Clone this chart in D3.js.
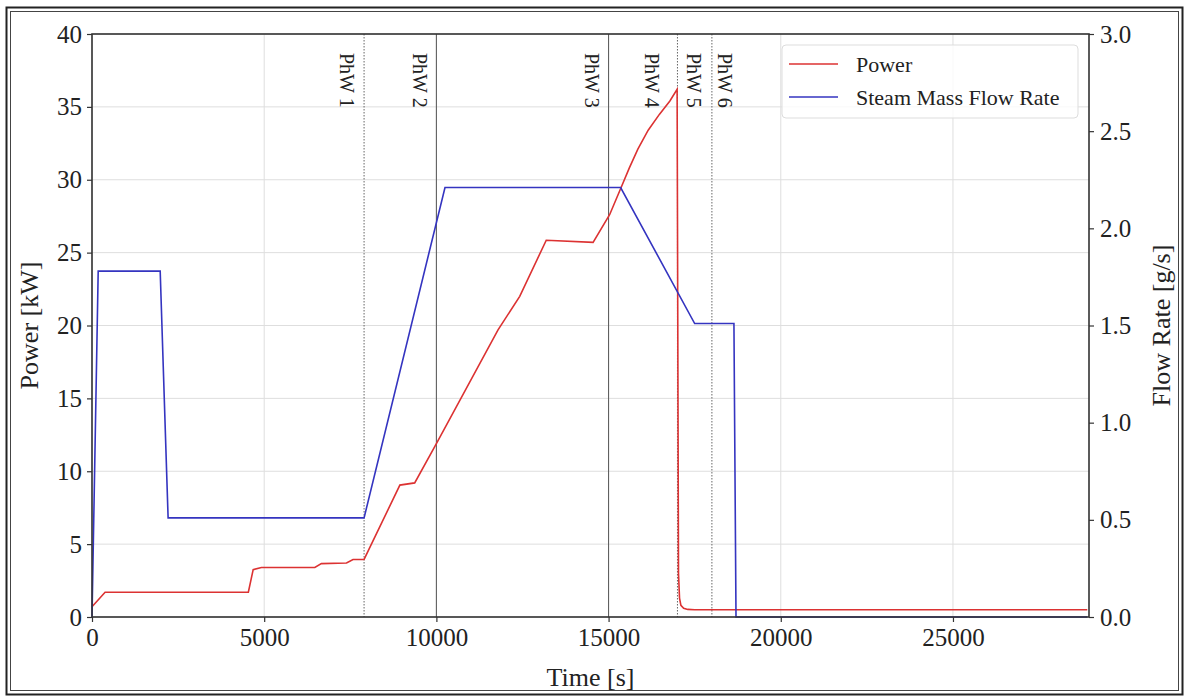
<!DOCTYPE html>
<html>
<head>
<meta charset="utf-8">
<script src="https://cdn.jsdelivr.net/npm/d3@7"></script>
<style>
  body { margin: 0; background: #fff; }
  svg { display: block; }
</style>
</head>
<body>
<div id="g"></div>
<script>
// ---- data ----
var timeTicks  = [0, 5000, 10000, 15000, 20000, 25000];
var powerTicks = [0, 5, 10, 15, 20, 25, 30, 35, 40];
var flowTicks  = [0, 0.5, 1.0, 1.5, 2.0, 2.5, 3.0];

var powerT  = [0, 380, 4540, 4680, 4920, 6470, 6660, 7390, 7580, 7900, 8940, 9370, 10000, 11790, 12420, 13190, 14550, 15030, 15370, 15600, 15850, 16150, 16480, 16780, 16990, 17030, 17060, 17100, 17180, 17300, 17500, 28900];
var powerKW = [0.7, 1.7, 1.7, 3.25, 3.4, 3.4, 3.66, 3.7, 3.95, 3.95, 9.05, 9.2, 11.9, 19.7, 22.0, 25.85, 25.7, 27.6, 29.5, 30.8, 32.1, 33.4, 34.5, 35.4, 36.2, 3.0, 1.3, 0.8, 0.6, 0.52, 0.5, 0.5];

var flowT  = [0, 180, 1980, 2210, 7900, 10250, 15350, 17500, 18640, 18700, 28900];
var flowGS = [0, 1.78, 1.78, 0.51, 0.51, 2.21, 2.21, 1.51, 1.51, 0, 0];

var phaseLineT    = [7900, 10000, 15000, 17000, 18000];
var phaseLineKind = ["dot", "solid", "solid", "dot", "dot"];
var phaseLabels   = ["PhW 1", "PhW 2", "PhW 3", "PhW 4", "PhW 5", "PhW 6"];
var phaseLabelT   = [7400, 9520, 14510, 16250, 17470, 18370];

var seriesNames = ["Power", "Steam Mass Flow Rate"];

// ---- layout ----
var WIDTH = 1186, HEIGHT = 699;
var M = {left: 92, right: 97, top: 34, bottom: 82};
var W = WIDTH - M.left - M.right, H = HEIGHT - M.top - M.bottom;
var FONT = "'Liberation Serif', 'Times New Roman', serif";
var RED = "#dc3232", BLUE = "#3434c0";

var svg = d3.select("#g").append("svg")
    .attr("width", WIDTH).attr("height", HEIGHT)
    .style("font-family", FONT);

// double frame around the figure
svg.append("rect").attr("x", 6.5).attr("y", 7.5).attr("width", 1176).attr("height", 687)
    .attr("fill", "none").attr("stroke", "#222").attr("stroke-width", 2);
svg.append("rect").attr("x", 10.5).attr("y", 11.5).attr("width", 1168).attr("height", 679)
    .attr("fill", "none").attr("stroke", "#444").attr("stroke-width", 1);

var g = svg.append("g").attr("transform", "translate(" + M.left + "," + M.top + ")");

var x  = d3.scaleLinear().domain([0, 28950]).range([0, W]);
var yP = d3.scaleLinear().domain([0, 40]).range([H, 0]);
var yF = d3.scaleLinear().domain([0, 3]).range([H, 0]);

// grid
g.append("g").selectAll("line").data(timeTicks).enter().append("line")
    .attr("x1", function(d){ return x(d); }).attr("x2", function(d){ return x(d); })
    .attr("y1", 0).attr("y2", H)
    .attr("stroke", "#dedede").attr("stroke-width", 1);
g.append("g").selectAll("line").data(powerTicks).enter().append("line")
    .attr("x1", 0).attr("x2", W)
    .attr("y1", function(d){ return yP(d); }).attr("y2", function(d){ return yP(d); })
    .attr("stroke", "#dedede").attr("stroke-width", 1);

// phase lines
g.append("g").selectAll("line").data(phaseLineT).enter().append("line")
    .attr("x1", function(d){ return x(d); }).attr("x2", function(d){ return x(d); })
    .attr("y1", 0).attr("y2", H)
    .attr("stroke", function(d, i){ return phaseLineKind[i] == "solid" ? "#555" : "#666"; })
    .attr("stroke-width", 1)
    .attr("stroke-dasharray", function(d, i){ return phaseLineKind[i] == "solid" ? null : "1.5,1.5"; });

g.append("g").selectAll("text").data(phaseLabels).enter().append("text")
    .attr("transform", function(d, i){ return "translate(" + x(phaseLabelT[i]) + "," + 19 + ") rotate(90)"; })
    .attr("dy", "0.32em")
    .attr("font-size", 20)
    .attr("fill", "#222")
    .text(function(d){ return d; });

// lines
var powerPts = powerT.map(function(t, i){ return [t, powerKW[i]]; });
var flowPts  = flowT.map(function(t, i){ return [t, flowGS[i]]; });

g.append("path").datum(powerPts)
    .attr("d", d3.line().x(function(d){ return x(d[0]); }).y(function(d){ return yP(d[1]); }))
    .attr("fill", "none").attr("stroke", RED).attr("stroke-width", 1.6);
g.append("path").datum(flowPts)
    .attr("d", d3.line().x(function(d){ return x(d[0]); }).y(function(d){ return yF(d[1]); }))
    .attr("fill", "none").attr("stroke", BLUE).attr("stroke-width", 1.6);

// axes
function styleAxis(sel){
    sel.selectAll("path.domain").remove();
    sel.selectAll(".tick line").attr("stroke", "#333").attr("stroke-width", 1.2);
    sel.selectAll(".tick text").attr("font-family", FONT).attr("font-size", 25).attr("fill", "#222");
}

g.append("g").attr("transform", "translate(0," + H + ")")
    .call(d3.axisBottom(x).tickValues(timeTicks).tickFormat(d3.format("d")).tickSize(5).tickPadding(6))
    .call(styleAxis);
g.append("g")
    .call(d3.axisLeft(yP).tickValues(powerTicks).tickFormat(d3.format("d")).tickSize(5).tickPadding(5))
    .call(styleAxis);
g.append("g").attr("transform", "translate(" + W + ",0)")
    .call(d3.axisRight(yF).tickValues(flowTicks).tickFormat(d3.format(".1f")).tickSize(5).tickPadding(6))
    .call(styleAxis);

// spines
g.append("rect").attr("x", 0).attr("y", 0).attr("width", W).attr("height", H)
    .attr("fill", "none").attr("stroke", "#333").attr("stroke-width", 1.6);

// axis titles
svg.append("text").attr("x", M.left + W / 2).attr("y", 686)
    .attr("text-anchor", "middle").attr("font-size", 26).attr("fill", "#222")
    .text("Time [s]");
svg.append("text").attr("transform", "translate(38," + (M.top + H / 2) + ") rotate(-90)")
    .attr("text-anchor", "middle").attr("font-size", 26).attr("fill", "#222")
    .text("Power [kW]");
svg.append("text").attr("transform", "translate(1170," + (M.top + H / 2) + ") rotate(-90)")
    .attr("text-anchor", "middle").attr("font-size", 26).attr("fill", "#222")
    .text("Flow Rate [g/s]");

// legend
var lg = svg.append("g").attr("transform", "translate(782,45)");
lg.append("rect").attr("width", 296).attr("height", 73).attr("rx", 4)
    .attr("fill", "#fff").attr("fill-opacity", 0.8)
    .attr("stroke", "#ddd").attr("stroke-width", 1);
var items = lg.selectAll("g.item").data(seriesNames).enter().append("g")
    .attr("class", "item")
    .attr("transform", function(d, i){ return "translate(0," + (19 + i * 33) + ")"; });
items.append("line").attr("x1", 7).attr("x2", 56)
    .attr("stroke", function(d, i){ return i == 0 ? RED : BLUE; }).attr("stroke-width", 1.6);
items.append("text").attr("x", 74).attr("dy", "0.35em")
    .attr("font-size", 22).attr("fill", "#222")
    .text(function(d){ return d; });
</script>
</body>
</html>
